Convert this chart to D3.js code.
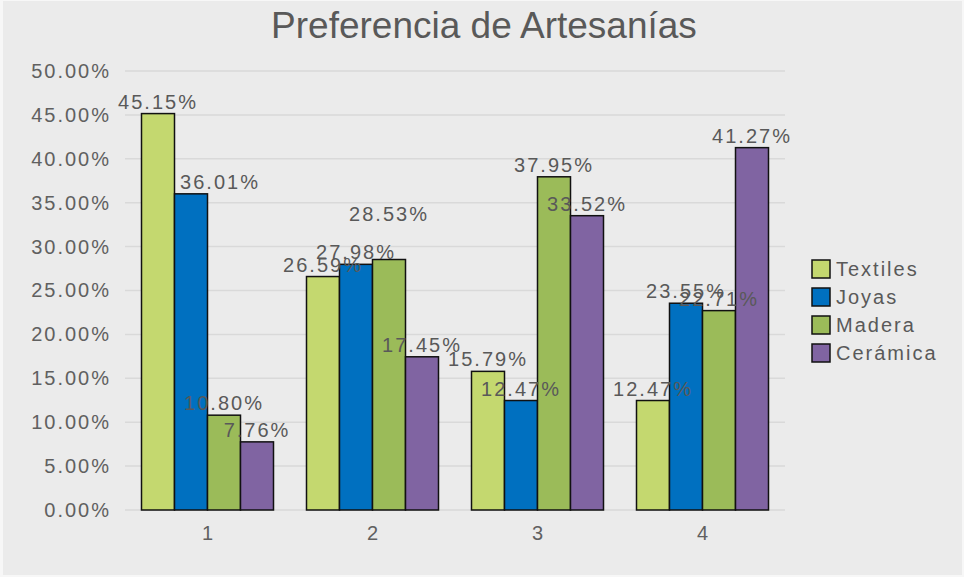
<!DOCTYPE html>
<html>
<head>
<meta charset="utf-8">
<title>Preferencia de Artesanías</title>
<style>
    html, body { margin: 0; padding: 0; background: #f7f7f7; }
    svg { display: block; font-family: "Liberation Sans", Arial, sans-serif; }
    .grid line { stroke: #d9d9d9; stroke-width: 1.5px; }
    .tick text { fill: #606060; }
</style>
<script src="https://cdn.jsdelivr.net/npm/d3@7"></script>
</head>
<body>
<script>
// data
const categories = ["1", "2", "3", "4"];
const seriesNames = ["Textiles", "Joyas", "Madera", "Cerámica"];
const textiles = [45.15, 26.59, 15.79, 12.47];
const joyas = [36.01, 27.98, 12.47, 23.55];
const madera = [10.80, 28.53, 37.95, 22.71];
const ceramica = [7.76, 17.45, 33.52, 41.27];
const yTicks = [0, 5, 10, 15, 20, 25, 30, 35, 40, 45, 50];

const seriesValues = [textiles, joyas, madera, ceramica];
const colors = ["#c4d86f", "#0070c0", "#9bbb59", "#8064a2"];

const width = 964, height = 577;
const margin = {top: 71, right: 179, bottom: 67, left: 125};

const svg = d3.select("body").append("svg")
    .attr("width", width)
    .attr("height", height);

// panel background
svg.append("rect")
    .attr("x", 3).attr("y", 1)
    .attr("width", width - 5).attr("height", height - 3)
    .attr("fill", "#ebebeb");

svg.append("text")
    .attr("x", 484).attr("y", 38)
    .attr("text-anchor", "middle")
    .attr("fill", "#595959")
    .style("font-size", "37px")
    .text("Preferencia de Artesanías");

const x0 = d3.scaleBand()
    .domain(categories)
    .range([margin.left, width - margin.right])
    .paddingInner(0.2).paddingOuter(0.1);

const x1 = d3.scaleBand()
    .domain(seriesNames)
    .range([0, x0.bandwidth()]);

const y = d3.scaleLinear()
    .domain([0, 50])
    .range([height - margin.bottom, margin.top]);

// gridlines
svg.append("g").attr("class", "grid")
    .selectAll("line").data(yTicks).join("line")
    .attr("x1", margin.left).attr("x2", width - margin.right)
    .attr("y1", d => y(d)).attr("y2", d => y(d));

// y axis labels
const yAxis = svg.append("g")
    .attr("transform", `translate(${margin.left},0)`)
    .call(d3.axisLeft(y).tickValues(yTicks).tickSize(0).tickPadding(14)
        .tickFormat(d => d.toFixed(2) + "%"));
yAxis.select(".domain").remove();
yAxis.selectAll("text").style("font-size", "20px").style("letter-spacing", "2px");

// x axis labels
const xAxis = svg.append("g")
    .attr("transform", `translate(0,${height - margin.bottom})`)
    .call(d3.axisBottom(x0).tickSize(0).tickPadding(16));
xAxis.select(".domain").remove();
xAxis.selectAll("text").style("font-size", "20px");

// bars
const groups = svg.append("g").selectAll("g")
    .data(categories).join("g")
    .attr("transform", d => `translate(${x0(d)},0)`);

const barData = (c, ci) => seriesNames.map((s, si) => ({cat: c, series: s, si: si, value: seriesValues[si][ci]}));

groups.selectAll("rect")
    .data(barData).join("rect")
    .attr("x", d => x1(d.series))
    .attr("y", d => y(d.value))
    .attr("width", x1.bandwidth())
    .attr("height", d => y(0) - y(d.value))
    .attr("fill", d => colors[d.si])
    .attr("stroke", "#111")
    .attr("stroke-width", 1.5);

// labels: a couple sit off their bar in the original, to dodge neighbours
const labelNudge = {"1|Joyas": [29, 0], "2|Madera": [0, -34]};
const nudge = d => labelNudge[d.cat + "|" + d.series] || [0, 0];
groups.selectAll("text.lbl")
    .data(barData).join("text")
    .attr("class", "lbl")
    .attr("x", d => x1(d.series) + x1.bandwidth() / 2 + nudge(d)[0])
    .attr("y", d => y(d.value) - 5 + nudge(d)[1])
    .attr("text-anchor", "middle")
    .attr("fill", "#595959")
    .style("font-size", "20px")
    .style("letter-spacing", "2px")
    .text(d => d.value.toFixed(2) + "%");

// legend
const legend = svg.append("g")
    .selectAll("g").data(seriesNames).join("g")
    .attr("transform", (d, i) => `translate(812,${269 + i * 28})`);

legend.append("rect")
    .attr("x", 0).attr("y", -9)
    .attr("width", 18).attr("height", 18)
    .attr("fill", (d, i) => colors[i])
    .attr("stroke", "#111")
    .attr("stroke-width", 1.5);

legend.append("text")
    .attr("x", 24).attr("y", 7)
    .attr("fill", "#595959")
    .style("font-size", "20px")
    .style("letter-spacing", "2px")
    .text(d => d);
</script>
</body>
</html>
